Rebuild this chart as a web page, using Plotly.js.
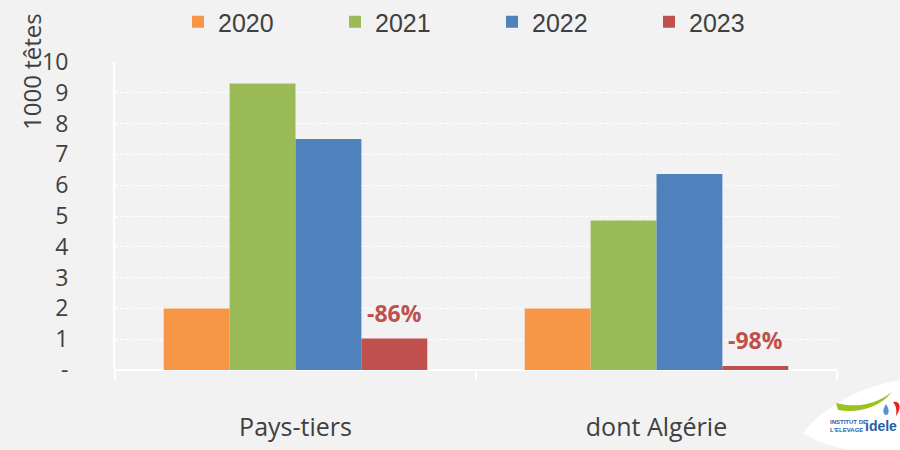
<!DOCTYPE html>
<html>
<head>
<meta charset="utf-8">
<script src="https://cdn.plot.ly/plotly-3.0.1.min.js"></script>
<style>html,body{margin:0;padding:0;background:#F2F2F2;}#chart{width:900px;height:450px;}</style>
</head>
<body>
<div id="chart"></div>
<script>
// ---- data ----
const categories = ["Pays-tiers", "dont Algérie"];
const years = ["2020", "2021", "2022", "2023"];
const v2020 = [2.0, 2.0];
const v2021 = [9.3, 4.85];
const v2022 = [7.5, 6.36];
const v2023 = [1.02, 0.13];
const changeLabels = ["-86%", "-98%"];
const yTickVals = [0, 1, 2, 3, 4, 5, 6, 7, 8, 9, 10];
const yTickText = ["-", "1", "2", "3", "4", "5", "6", "7", "8", "9", "10"];

const colors = ["#F79646", "#9BBB59", "#4F81BD", "#C0504D"];
const series = [v2020, v2021, v2022, v2023];
const textColor = "#404040";
const mainFont = "Open Sans, DejaVu Sans, sans-serif";

const W = 900, H = 450;
const M = {l: 115, r: 63, t: 62, b: 80, autoexpand: false};
const bargap = 0.27;

const traces = series.map((vals, i) => ({
  type: "bar",
  name: years[i],
  x: categories,
  y: vals,
  marker: {color: colors[i], line: {width: 0}},
  hoverinfo: "skip"
}));

// pixel -> paper helpers for the decorative logo
const pw = W - M.l - M.r, ph = H - M.t - M.b;
const px = v => (v - M.l) / pw;
const py = v => (H - M.b - v) / ph;

// percentage labels above the 2023 bars
const nS = series.length;
const offset2023 = (1 - bargap) * ((nS - 0.5) / nS - 0.5);
const annotations = categories.map((c, i) => ({
  x: i + offset2023, y: v2023[i], xref: "x", yref: "y",
  text: "<b>" + changeLabels[i] + "</b>", showarrow: false,
  yanchor: "bottom", yshift: 8,
  font: {family: "Open Sans, DejaVu Sans, sans-serif", size: 23, color: "#C0504D"}
}));

annotations.push({
  xref: "paper", yref: "paper", x: px(32), y: py(72),
  text: "1000 têtes", textangle: -90, showarrow: false,
  xanchor: "center", yanchor: "middle",
  font: {family: mainFont, size: 24, color: textColor}
});

// logo text
annotations.push({
  xref: "paper", yref: "paper", x: px(828), y: py(426), xanchor: "left", yanchor: "middle",
  text: "<b>INSTITUT DE<br>L'ELEVAGE</b>", showarrow: false, align: "left",
  font: {family: "Liberation Sans Narrow, Liberation Sans, sans-serif", size: 6, color: "#1f5fa8"}
});
annotations.push({
  xref: "paper", yref: "paper", x: px(864), y: py(426), xanchor: "left", yanchor: "middle",
  text: "<b>idele</b>", showarrow: false, borderpad: 0,
  font: {family: "Liberation Sans Narrow, Liberation Sans, sans-serif", size: 14, color: "#1f5fa8"}
});

const P = (x, y) => px(x).toFixed(4) + "," + py(y).toFixed(4);
const shapes = [
  {type: "path", xref: "paper", yref: "paper", layer: "above",
   path: "M" + P(803, 433) + " C" + P(825, 405) + " " + P(865, 385) + " " + P(902, 380) +
         " L" + P(902, 452) + " L" + P(860, 452) + " C" + P(838, 448) + " " + P(815, 442) + " " + P(803, 433) + " Z",
   fillcolor: "#FFFFFF", line: {width: 0}},
  {type: "path", xref: "paper", yref: "paper", layer: "above",
   path: "M" + P(836, 403) + " C" + P(858, 409) + " " + P(878, 403) + " " + P(892, 392) +
         " C" + P(880, 407) + " " + P(858, 414) + " " + P(838, 410) + " Z",
   fillcolor: "#9BC31C", line: {width: 0}},
  {type: "path", xref: "paper", yref: "paper", layer: "above",
   path: "M" + P(893, 402) + " C" + P(900, 400) + " " + P(902, 408) + " " + P(896, 416) +
         " C" + P(897, 410) + " " + P(896, 405) + " " + P(893, 402) + " Z",
   fillcolor: "#E2231A", line: {width: 0}},
  {type: "path", xref: "paper", yref: "paper", layer: "above",
   path: "M" + P(886, 404) + " C" + P(890, 410) + " " + P(889, 415) + " " + P(886, 415) +
         " C" + P(883, 415) + " " + P(882, 410) + " " + P(886, 404) + " Z",
   fillcolor: "#5B8FD0", line: {width: 0}}
];

const layout = {
  width: W, height: H,
  margin: M,
  paper_bgcolor: "#F2F2F2",
  plot_bgcolor: "#F2F2F2",
  barmode: "group",
  bargap: bargap,
  bargroupgap: 0,
  showlegend: true,
  legend: {
    orientation: "h", x: px(492), xanchor: "center", y: 1 + (M.t + 1) / ph, yanchor: "top",
    font: {family: "Liberation Sans, Arial, sans-serif", size: 25, color: textColor},
    entrywidth: 112, entrywidthmode: "pixels", itemwidth: 30, bgcolor: "rgba(0,0,0,0)"
  },
  xaxis: {
    type: "category",
    showgrid: false,
    ticks: "outside", tickson: "boundaries", ticklen: 9, tickcolor: "#FFFFFF", tickwidth: 2,
    ticklabelstandoff: 40,
    tickfont: {family: mainFont, size: 25, color: textColor},
    showline: false, zeroline: false, fixedrange: true
  },
  yaxis: {
    range: [0, 10],
    tickvals: yTickVals, ticktext: yTickText,
    tickfont: {family: mainFont, size: 23, color: textColor},
    ticks: "", ticklabelstandoff: 40,
    showgrid: true, gridcolor: "#FFFFFF", griddash: "3px,2px", gridwidth: 1,
    zeroline: true, zerolinecolor: "#FFFFFF", zerolinewidth: 2,
    showline: true, linecolor: "#FFFFFF", linewidth: 2,
    fixedrange: true
  },
  annotations: annotations,
  shapes: shapes
};

Plotly.newPlot("chart", traces, layout, {displayModeBar: false, staticPlot: true});
</script>
</body>
</html>
